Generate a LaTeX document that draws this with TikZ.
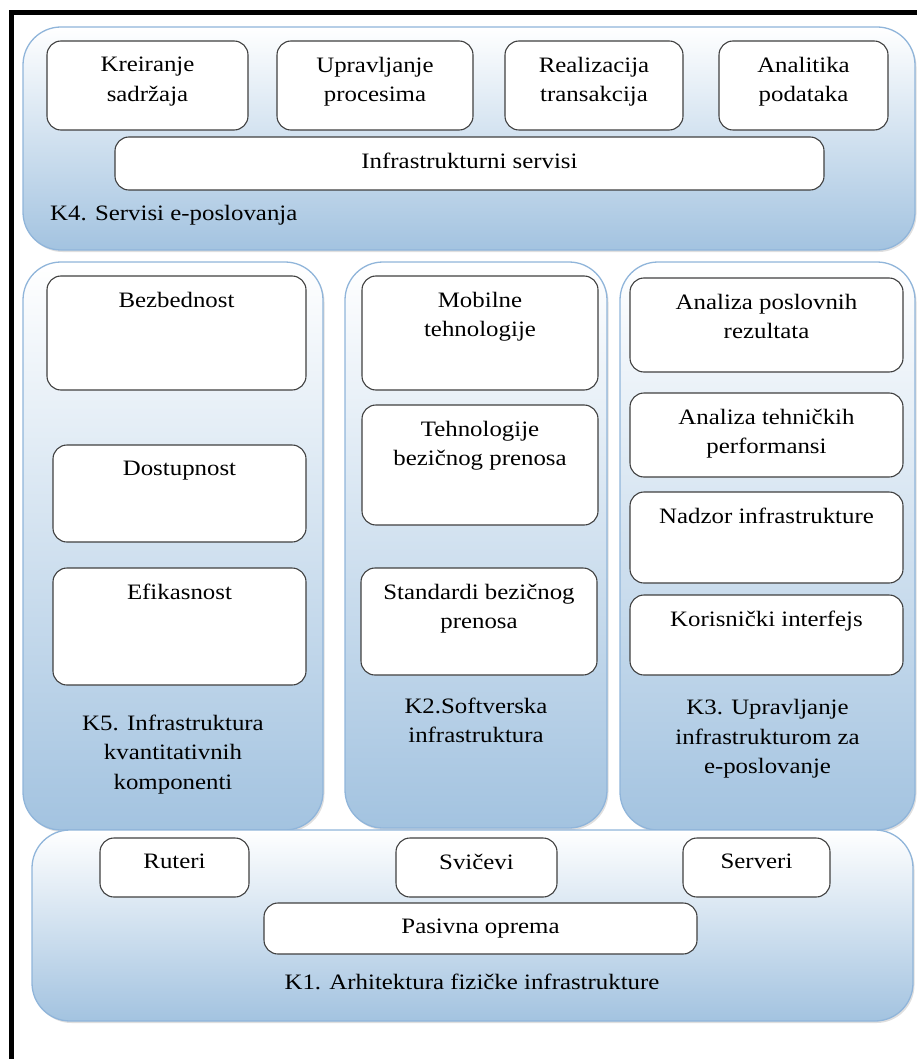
\documentclass[tikz,border=0pt]{standalone}
\usepackage{fontspec}
\setmainfont{Liberation Serif}[FakeStretch=1.13]
\usetikzlibrary{shadows}
\definecolor{panelblue}{HTML}{A3C3E0}
\definecolor{paneledge}{HTML}{90B5DA}
\definecolor{boxedge}{HTML}{404040}
\newcommand{\boxfont}{\fontsize{22pt}{29.5pt}\selectfont}

\begin{document}
\begin{tikzpicture}[x=1pt, y=-1pt,
    panel/.style 2 args={draw=paneledge, line width=1.3pt, rounded corners=38pt,
      top color=white, bottom color=panelblue,
      drop shadow={shadow xshift=1.5pt, shadow yshift=-2pt, opacity=0.25},
      minimum width=#1pt, minimum height=#2pt, inner sep=0pt},
    item/.style 2 args={draw=boxedge, fill=white, line width=1.1pt, rounded corners=14pt,
      minimum width=#1pt, minimum height=#2pt, inner sep=0pt},
    lbl/.style={anchor=north, inner sep=0pt, yshift=-16.5pt, align=center, font=\boxfont},
    plbl/.style={inner sep=0pt, align=center, font=\boxfont}]
  \useasboundingbox (0,0) rectangle (917,1059);
  % frame
  \draw[line width=5pt] (11.5,1059) -- (11.5,12.5) -- (917,12.5);

  % K4. Servisi e-poslovanja
  \node[panel={892}{223}] (k4) at (469,138.5) {};
  \node[plbl, anchor=base west] (k4t) at (50,220.5) {K4. Servisi e-poslovanja};

  % middle row
  \node[panel={300}{568}] (k5) at (173,546) {};
  \node[panel={262}{566}] (k2) at (476,545) {};
  \node[panel={295}{568}] (k3) at (767.5,546) {};
  \node[plbl, anchor=north] (k5t) at (173,714.5) {K5. Infrastruktura\\kvantitativnih\\komponenti};
  \node[plbl, anchor=north] (k2t) at (476,697.5) {K2.Softverska\\infrastruktura};
  \node[plbl, anchor=north] (k3t) at (767.5,699.5) {K3. Upravljanje\\infrastrukturom za\\e-poslovanje};

  % K1. Arhitektura fizicke infrastrukture
  \node[panel={881}{191}] (k1) at (472.5,925.5) {};
  \node[plbl, anchor=base] (k1t) at (472,989.5) {K1. Arhitektura fizičke infrastrukture};

  % boxes of K4
  \node[item={201}{89}, label={[lbl]north:{Kreiranje\\sadržaja}}] (kre) at (147.5,85.5) {};
  \node[item={196}{89}, label={[lbl]north:{Upravljanje\\procesima}}] (upr) at (375,85.5) {};
  \node[item={178}{89}, label={[lbl]north:{Realizacija\\transakcija}}] (rea) at (594,85.5) {};
  \node[item={169}{89}, label={[lbl]north:{Analitika\\podataka}}] (ana) at (803.5,85.5) {};
  \node[item={709}{53}, label={[lbl]north:{Infrastrukturni servisi}}] (inf) at (469.5,163.5) {};

  % boxes of K5
  \node[item={259}{114}, label={[lbl]north:{Bezbednost}}] (bez) at (176.5,333) {};
  \node[item={253}{97}, label={[lbl]north:{Dostupnost}}] (dos) at (179.5,493.5) {};
  \node[item={253}{117}, label={[lbl]north:{Efikasnost}}] (efi) at (179.5,626.5) {};

  % boxes of K2
  \node[item={236}{114}, label={[lbl]north:{Mobilne\\tehnologije}}] (mob) at (480,333) {};
  \node[item={236}{120}, label={[lbl]north:{Tehnologije\\bezičnog prenosa}}] (teh) at (480,465) {};
  \node[item={236}{107}, label={[lbl]north:{Standardi bezičnog\\prenosa}}] (sta) at (479,621.5) {};

  % boxes of K3
  \node[item={273}{94}, label={[lbl]north:{Analiza poslovnih\\rezultata}}] (apr) at (766.5,325) {};
  \node[item={273}{84}, label={[lbl]north:{Analiza tehničkih\\performansi}}] (ate) at (766.5,435) {};
  \node[item={273}{91}, label={[lbl]north:{Nadzor infrastrukture}}] (nad) at (766.5,537.5) {};
  \node[item={273}{80}, label={[lbl]north:{Korisnički interfejs}}] (kor) at (766.5,635) {};

  % boxes of K1
  \node[item={149}{59}, label={[lbl]north:{Ruteri}}] (rut) at (174.5,867.5) {};
  \node[item={161}{59}, label={[lbl]north:{Svičevi}}] (svi) at (476.5,867.5) {};
  \node[item={147}{59}, label={[lbl]north:{Serveri}}] (ser) at (756.5,867.5) {};
  \node[item={433}{51}, label={[lbl]north:{Pasivna oprema}}] (pas) at (480.5,928.5) {};
\end{tikzpicture}
\end{document}
